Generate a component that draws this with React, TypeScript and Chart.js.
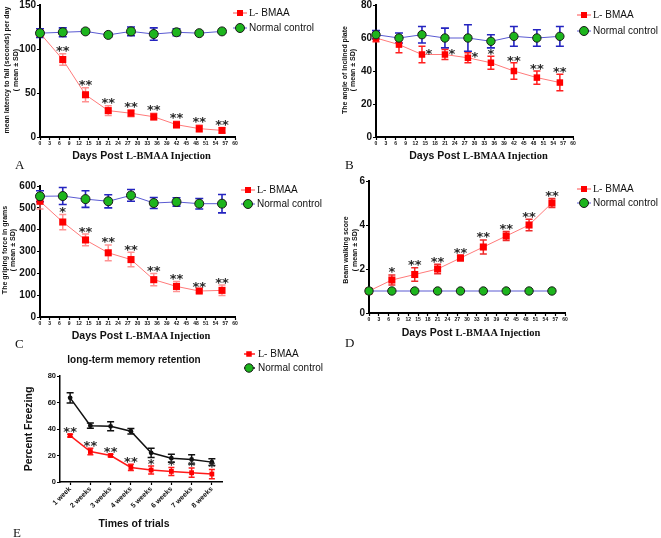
import React, { useEffect, useRef } from 'react';
import { Chart, registerables } from 'chart.js';

Chart.register(...registerables);

const SANS = '"Liberation Sans", Arial, sans-serif';
const SERIF = '"Liberation Serif", "Times New Roman", serif';

// ---------------- data ----------------
const days = [0, 7, 14, 21, 28, 35, 42, 49, 56];
const dayTicks = [0, 3, 6, 9, 12, 15, 18, 21, 24, 27, 30, 33, 36, 39, 42, 45, 48, 51, 54, 57, 60];

// A: rotarod latency
const latencyTicks = [0, 50, 100, 150];
const latencyBMAA = [118, 88, 48, 30, 27, 23, 14, 9.5, 7.5];
const latencyBMAASd = [3, 6.5, 8, 5.5, 4, 4, 4, 4, 3];
const latencyControl = [118, 119, 120, 116, 120, 117, 119, 118, 120];
const latencyControlSd = [5, 5, 2, 2, 5, 7, 4, 2, 2];
const latencyStars = ['', '**', '**', '**', '**', '**', '**', '**', '**'];

// B: inclined plate angle
const angleTicks = [0, 20, 40, 60, 80];
const angleBMAA = [60, 56, 50, 50, 48, 45, 40, 36, 33];
const angleBMAASd = [2.3, 5, 5, 3, 3, 4, 5, 4, 5];
const angleControl = [62, 60, 62, 60, 60, 58, 61, 60, 61];
const angleControlSd = [2.5, 3, 5, 6, 8, 4, 6, 5, 6];
const angleStars = ['', '', '*', '*', '*', '*', '**', '**', '**'];
const angleStarSide = ['', '', 'right', 'right', 'right', '', '', '', ''];

// C: griping force
const gripTicks = [0, 100, 200, 300, 400, 500, 600];
const gripBMAA = [530, 435, 353, 294, 263, 171, 140, 119, 122];
const gripBMAASd = [35, 35, 27, 36, 33, 28, 23, 8, 24];
const gripControl = [553, 554, 540, 530, 557, 522, 527, 519, 519];
const gripControlSd = [25, 39, 38, 30, 27, 25, 19, 24, 42];
const gripStars = ['', '*', '**', '**', '**', '**', '**', '**', '**'];

// D: beam walking
const beamTicks = [0, 2, 4, 6];
const beamBMAA = [1, 1.5, 1.75, 2, 2.5, 3, 3.5, 4, 5];
const beamBMAASd = [0, 0.23, 0.31, 0.22, 0.13, 0.32, 0.2, 0.26, 0.21];
const beamControl = [1, 1, 1, 1, 1, 1, 1, 1, 1];
const beamControlSd = [0, 0, 0, 0, 0, 0, 0, 0, 0];
const beamStars = ['', '*', '**', '**', '**', '**', '**', '**', '**'];

// E: long-term memory retention
const weeks = ['1 week', '2 weeks', '3 weeks', '4 weeks', '5 weeks', '6 weeks', '7 weeks', '8 weeks'];
const freezeTicks = [0, 20, 40, 60, 80];
const freezeBMAA = [35, 23, 20, 11, 9, 8, 7, 6];
const freezeBMAASd = [1, 2.4, 1, 2.4, 3, 3, 3.5, 3.5];
const freezeControl = [63.5, 42.5, 42, 38.3, 22, 18, 17, 15];
const freezeControlSd = [3.8, 2, 3.4, 2, 3.5, 3, 3.5, 2.5];
const freezeStars = ['**', '**', '**', '**', '*', '*', '*', '*'];

const seriesBMAA = [['L-', SERIF], [' BMAA', SANS]];
const seriesControl = [['Normal control', SANS]];

// ---------------- styles ----------------
const RED = '#FF0000';
const GREEN = '#1DB51D';
const BLUE_LINE = '#5A5AD2';
const BLUE_ERR = '#2424C0';

type Box = { left: number; top: number; width: number; height: number };
type Area = { l: number; t: number; r: number; b: number };

// ---------------- plugins ----------------
const errorBarPlugin = {
  id: 'errorBars',
  beforeDatasetsDraw(chart: any) {
    const ctx = chart.ctx;
    const ys = chart.scales.y;
    chart.data.datasets.forEach((ds: any, i: number) => {
      if (!ds.sd) return;
      const meta = chart.getDatasetMeta(i);
      ctx.save();
      ctx.strokeStyle = ds.errColor;
      ctx.lineWidth = ds.errWidth;
      meta.data.forEach((el: any, j: number) => {
        const s = ds.sd[j];
        if (!s) return;
        const v = meta.controller.getParsed(j).y;
        const x = el.x;
        const yTop = ys.getPixelForValue(v + s);
        const yBot = ys.getPixelForValue(v - s);
        const c = ds.cap;
        ctx.beginPath();
        ctx.moveTo(x, yTop);
        ctx.lineTo(x, yBot);
        ctx.moveTo(x - c, yTop);
        ctx.lineTo(x + c, yTop);
        ctx.moveTo(x - c, yBot);
        ctx.lineTo(x + c, yBot);
        ctx.stroke();
      });
      ctx.restore();
    });
  },
};

function makeStarPlugin(cfg: any) {
  return {
    id: 'sigStars',
    afterDatasetsDraw(chart: any) {
      const ctx = chart.ctx;
      const ds = chart.data.datasets[cfg.datasetIndex];
      const meta = chart.getDatasetMeta(cfg.datasetIndex);
      const ys = chart.scales.y;
      ctx.save();
      ctx.font = `bold ${cfg.size}px "DejaVu Sans"`;
      ctx.fillStyle = '#2a2a2a';
      ctx.textAlign = 'center';
      ctx.textBaseline = 'alphabetic';
      const m = ctx.measureText('*');
      const centerAbove = (m.actualBoundingBoxAscent - m.actualBoundingBoxDescent) / 2;
      cfg.labels.forEach((lab: string, j: number) => {
        if (!lab) return;
        const el = meta.data[j];
        const v = meta.controller.getParsed(j).y;
        const s = ds.sd[j] || 0;
        let cx = el.x;
        let cy: number;
        if (cfg.side && cfg.side[j] === 'right') {
          cx = el.x + cfg.dx;
          cy = el.y + cfg.dy;
        } else {
          cy = ys.getPixelForValue(v + s) - cfg.gap;
        }
        ctx.fillText(lab, cx, cy + centerAbove);
      });
      ctx.restore();
    },
  };
}

function makeLegendPlugin(box: Box, cfg: any) {
  return {
    id: 'panelLegend',
    afterDraw(chart: any) {
      const ctx = chart.ctx;
      const rows = [
        { y: cfg.y1, parts: seriesBMAA, line: cfg.redLine, lw: cfg.redLw, marker: 'rect', size: cfg.rectSize },
        { y: cfg.y2, parts: seriesControl, line: cfg.ctrlLine, lw: cfg.ctrlLw, marker: 'circle', size: cfg.circleSize },
      ];
      rows.forEach((r) => {
        const y = r.y - box.top;
        const mx = cfg.mx - box.left;
        ctx.save();
        ctx.strokeStyle = r.line;
        ctx.lineWidth = r.lw;
        ctx.beginPath();
        ctx.moveTo(cfg.x1 - box.left, y);
        ctx.lineTo(cfg.x2 - box.left, y);
        ctx.stroke();
        if (r.marker === 'rect') {
          ctx.fillStyle = RED;
          ctx.fillRect(mx - r.size / 2, y - r.size / 2, r.size, r.size);
        } else {
          ctx.beginPath();
          ctx.arc(mx, y, r.size / 2, 0, Math.PI * 2);
          ctx.fillStyle = GREEN;
          ctx.fill();
          ctx.strokeStyle = '#1a1a1a';
          ctx.lineWidth = 1;
          ctx.stroke();
        }
        ctx.fillStyle = '#111';
        ctx.textAlign = 'left';
        ctx.textBaseline = 'middle';
        let tx = cfg.tx - box.left;
        r.parts.forEach(([text, fam]: any) => {
          ctx.font = `${cfg.fontSize}px ${fam}`;
          ctx.fillText(text, tx, y + 0.5);
          tx += ctx.measureText(text).width;
        });
        ctx.restore();
      });
    },
  };
}

// ---------------- config builders ----------------
function axisCommon(borderW: number) {
  return {
    grid: { display: true, drawOnChartArea: false, drawTicks: true, tickLength: 3, tickWidth: 1.2, tickColor: '#000' },
    border: { display: true, color: '#000', width: borderW },
  };
}

function padding(box: Box, area: Area, yW: number, xH: number) {
  return {
    left: area.l - box.left - yW,
    top: area.t - box.top,
    right: box.left + box.width - area.r,
    bottom: box.top + box.height - area.b - xH,
  };
}

function daysPanel(p: {
  box: Box; area: Area; yMax: number; yTicks: number[];
  bmaa: number[]; bmaaSd: number[]; ctrl: number[]; ctrlSd: number[];
  redErr: string; stars: any; legend: any; sqR: number; cirR: number;
}) {
  const yW = 30;
  const xH = 12;
  return {
    type: 'line',
    data: {
      datasets: [
        {
          label: 'Normal control',
          data: days.map((d, i) => ({ x: d, y: p.ctrl[i] })),
          sd: p.ctrlSd, errColor: BLUE_ERR, errWidth: 1.6, cap: 4,
          borderColor: BLUE_LINE, borderWidth: 1, tension: 0, fill: false, clip: false,
          pointStyle: 'circle', pointRadius: p.cirR, pointBackgroundColor: GREEN,
          pointBorderColor: '#1a1a1a', pointBorderWidth: 1,
        },
        {
          label: 'L-BMAA',
          data: days.map((d, i) => ({ x: d, y: p.bmaa[i] })),
          sd: p.bmaaSd, errColor: p.redErr, errWidth: 1.5, cap: 3.5,
          borderColor: '#FF7A7A', borderWidth: 1, tension: 0, fill: false, clip: false,
          pointStyle: 'rect', pointRadius: p.sqR, pointBackgroundColor: RED,
          pointBorderColor: RED, pointBorderWidth: 0,
        },
      ],
    },
    options: {
      responsive: false,
      animation: false,
      events: [],
      layout: { padding: padding(p.box, p.area, yW, xH) },
      plugins: { legend: { display: false }, tooltip: { enabled: false }, title: { display: false } },
      scales: {
        x: {
          type: 'linear', min: 0, max: 60,
          afterBuildTicks: (s: any) => { s.ticks = dayTicks.map((v) => ({ value: v })); },
          afterFit: (s: any) => { s.height = xH; },
          ...axisCommon(2),
          ticks: { autoSkip: false, maxRotation: 0, minRotation: 0, padding: 1, color: '#111', font: { family: SANS, size: 5, weight: 'bold' } },
        },
        y: {
          type: 'linear', min: 0, max: p.yMax,
          afterBuildTicks: (s: any) => { s.ticks = p.yTicks.map((v) => ({ value: v })); },
          afterFit: (s: any) => { s.width = yW; },
          ...axisCommon(2),
          ticks: { padding: 1, color: '#111', font: { family: SANS, size: 10, weight: 'bold' } },
        },
      },
    },
    plugins: [errorBarPlugin, makeStarPlugin({ datasetIndex: 1, size: 13, ...p.stars }), makeLegendPlugin(p.box, p.legend)],
  };
}

function legendCfg(y1: number, y2: number, x1: number, x2: number, mx: number, tx: number, ctrlLine: string) {
  return { y1, y2, x1, x2, mx, tx, redLine: '#FF5050', redLw: 1, ctrlLine, ctrlLw: 1, rectSize: 6, circleSize: 9, fontSize: 10 };
}

const boxA: Box = { left: 0, top: -5, width: 330, height: 175 };
const boxB: Box = { left: 330, top: -5, width: 331, height: 175 };
const boxC: Box = { left: 0, top: 165, width: 330, height: 180 };
const boxD: Box = { left: 330, top: 165, width: 331, height: 180 };
const boxE: Box = { left: 0, top: 345, width: 330, height: 193 };

const buildA = () => daysPanel({
  box: boxA, area: { l: 40, t: 5, r: 235, b: 137 }, yMax: 150, yTicks: latencyTicks,
  bmaa: latencyBMAA, bmaaSd: latencyBMAASd, ctrl: latencyControl, ctrlSd: latencyControlSd,
  redErr: 'rgba(255,110,110,0.75)', sqR: 5, cirR: 4.5,
  stars: { labels: latencyStars, gap: 5 },
  legend: legendCfg(13, 28, 233, 247, 240, 249, BLUE_LINE),
});
const buildB = () => daysPanel({
  box: boxB, area: { l: 376, t: 5, r: 573, b: 137 }, yMax: 80, yTicks: angleTicks,
  bmaa: angleBMAA, bmaaSd: angleBMAASd, ctrl: angleControl, ctrlSd: angleControlSd,
  redErr: '#FF2020', sqR: 4.6, cirR: 4.2,
  stars: { labels: angleStars, gap: 4, side: angleStarSide, dx: 7, dy: -2.5 },
  legend: legendCfg(15, 31, 577, 591, 584, 593, BLUE_LINE),
});
const buildC = () => daysPanel({
  box: boxC, area: { l: 40, t: 186, r: 235, b: 317 }, yMax: 600, yTicks: gripTicks,
  bmaa: gripBMAA, bmaaSd: gripBMAASd, ctrl: gripControl, ctrlSd: gripControlSd,
  redErr: 'rgba(255,120,120,0.8)', sqR: 5, cirR: 4.5,
  stars: { labels: gripStars, gap: 4.5 },
  legend: legendCfg(190, 204, 241, 255, 248, 257, BLUE_LINE),
});
const buildD = () => daysPanel({
  box: boxD, area: { l: 369, t: 181, r: 565, b: 313 }, yMax: 6, yTicks: beamTicks,
  bmaa: beamBMAA, bmaaSd: beamBMAASd, ctrl: beamControl, ctrlSd: beamControlSd,
  redErr: '#EE2A2A', sqR: 5, cirR: 4.2,
  stars: { labels: beamStars, gap: 4.5 },
  legend: legendCfg(189, 203, 577, 591, 584, 593, BLUE_LINE),
});

const buildE = () => {
  const box = boxE;
  const area = { l: 60, t: 376, r: 222, b: 482 };
  const yW = 20;
  const xH = 40;
  return {
    type: 'line',
    data: {
      labels: weeks,
      datasets: [
        {
          label: 'L-BMAA', data: freezeBMAA, sd: freezeBMAASd, errColor: '#FF1A1A', errWidth: 1.5, cap: 3,
          borderColor: '#FF1A1A', borderWidth: 1.5, tension: 0, fill: false, clip: false,
          pointStyle: 'rect', pointRadius: 3.4, pointBackgroundColor: RED, pointBorderWidth: 0,
        },
        {
          label: 'Normal control', data: freezeControl, sd: freezeControlSd, errColor: '#111', errWidth: 1.5, cap: 3.5,
          borderColor: '#111', borderWidth: 1.5, tension: 0, fill: false, clip: false,
          pointStyle: 'circle', pointRadius: 2.4, pointBackgroundColor: '#111', pointBorderWidth: 0,
        },
      ],
    },
    options: {
      responsive: false,
      animation: false,
      events: [],
      layout: { padding: padding(box, area, yW, xH) },
      plugins: { legend: { display: false }, tooltip: { enabled: false }, title: { display: false } },
      scales: {
        x: {
          type: 'category', offset: true,
          afterFit: (s: any) => { s.height = xH; },
          ...axisCommon(1.5),
          grid: { display: true, offset: false, drawOnChartArea: false, drawTicks: true, tickLength: 3, tickWidth: 1.2, tickColor: '#000' },
          ticks: { autoSkip: false, maxRotation: 45, minRotation: 45, padding: 0, color: '#111', font: { family: SANS, size: 7, weight: 'bold' } },
        },
        y: {
          type: 'linear', min: 0, max: 80,
          afterBuildTicks: (s: any) => { s.ticks = freezeTicks.map((v) => ({ value: v })); },
          afterFit: (s: any) => { s.width = yW; },
          ...axisCommon(1.5),
          ticks: { padding: 1, color: '#111', font: { family: SANS, size: 7.5, weight: 'bold' } },
        },
      },
    },
    plugins: [
      errorBarPlugin,
      makeStarPlugin({ datasetIndex: 0, size: 13, labels: freezeStars, gap: 4 }),
      makeLegendPlugin(box, { y1: 354, y2: 368, x1: 244, x2: 255, mx: 249, tx: 258, redLine: '#FF2020', redLw: 1.5, ctrlLine: '#111', ctrlLw: 1.5, rectSize: 5.5, circleSize: 8.5, fontSize: 10 }),
    ],
  };
};

// ---------------- components ----------------
function ChartPanel({ box, build }: { box: Box; build: () => any }) {
  const ref = useRef<HTMLCanvasElement>(null);
  useEffect(() => {
    const chart = new Chart(ref.current as HTMLCanvasElement, build());
    return () => chart.destroy();
  }, []);
  return (
    <canvas
      ref={ref}
      width={box.width}
      height={box.height}
      style={{ position: 'absolute', left: box.left, top: box.top, width: box.width, height: box.height }}
    />
  );
}

function Txt({ x, y, font, children, rotate = false, lh, left = false }: any) {
  return (
    <div
      style={{
        position: 'absolute', left: x, top: y, font, color: '#111', whiteSpace: 'nowrap',
        lineHeight: lh ? `${lh}px` : 1, textAlign: 'center',
        transform: left ? 'translate(0,-50%)' : rotate ? 'translate(-50%,-50%) rotate(-90deg)' : 'translate(-50%,-50%)',
      }}
    >
      {children}
    </div>
  );
}

function DaysTitle({ x, y }: { x: number; y: number }) {
  return (
    <Txt x={x} y={y} font={`bold 10.5px ${SANS}`}>
      <span>Days Post </span>
      <span style={{ fontFamily: SERIF }}>L-BMAA Injection</span>
    </Txt>
  );
}

const yTitleFont = `bold 7px ${SANS}`;

export default function App() {
  return (
    <div style={{ position: 'fixed', left: 0, top: 0, width: 661, height: 538, overflow: 'hidden', background: '#fff' }}>
      <ChartPanel box={boxA} build={buildA} />
      <ChartPanel box={boxB} build={buildB} />
      <ChartPanel box={boxC} build={buildC} />
      <ChartPanel box={boxD} build={buildD} />
      <ChartPanel box={boxE} build={buildE} />

      <Txt x={10.5} y={70} font={yTitleFont} rotate lh={9}>mean latency to fall (seconds) per day<br />( mean ± SD)</Txt>
      <Txt x={349} y={70} font={yTitleFont} rotate lh={8}>The angle of Inclined plate<br />( mean ± SD)</Txt>
      <Txt x={9} y={250} font={yTitleFont} rotate lh={8}>The griping force in grams<br />( mean ± SD)</Txt>
      <Txt x={350} y={250} font={yTitleFont} rotate lh={8.5}>Beam walking score<br />( mean ± SD)</Txt>
      <Txt x={28} y={429} font={`bold 10.5px ${SANS}`} rotate>Percent Freezing</Txt>

      <DaysTitle x={141.5} y={156} />
      <DaysTitle x={478.5} y={156} />
      <DaysTitle x={141} y={336} />
      <DaysTitle x={471} y={333} />
      <Txt x={134} y={523} font={`bold 10.5px ${SANS}`}>Times of trials</Txt>
      <Txt x={134} y={360} font={`bold 10px ${SANS}`}>long-term memory retention</Txt>

      <Txt x={15} y={164} font={`13px ${SERIF}`} left>A</Txt>
      <Txt x={345} y={164} font={`13px ${SERIF}`} left>B</Txt>
      <Txt x={15} y={343} font={`13px ${SERIF}`} left>C</Txt>
      <Txt x={345} y={342} font={`13px ${SERIF}`} left>D</Txt>
      <Txt x={13} y={532} font={`13px ${SERIF}`} left>E</Txt>
    </div>
  );
}
